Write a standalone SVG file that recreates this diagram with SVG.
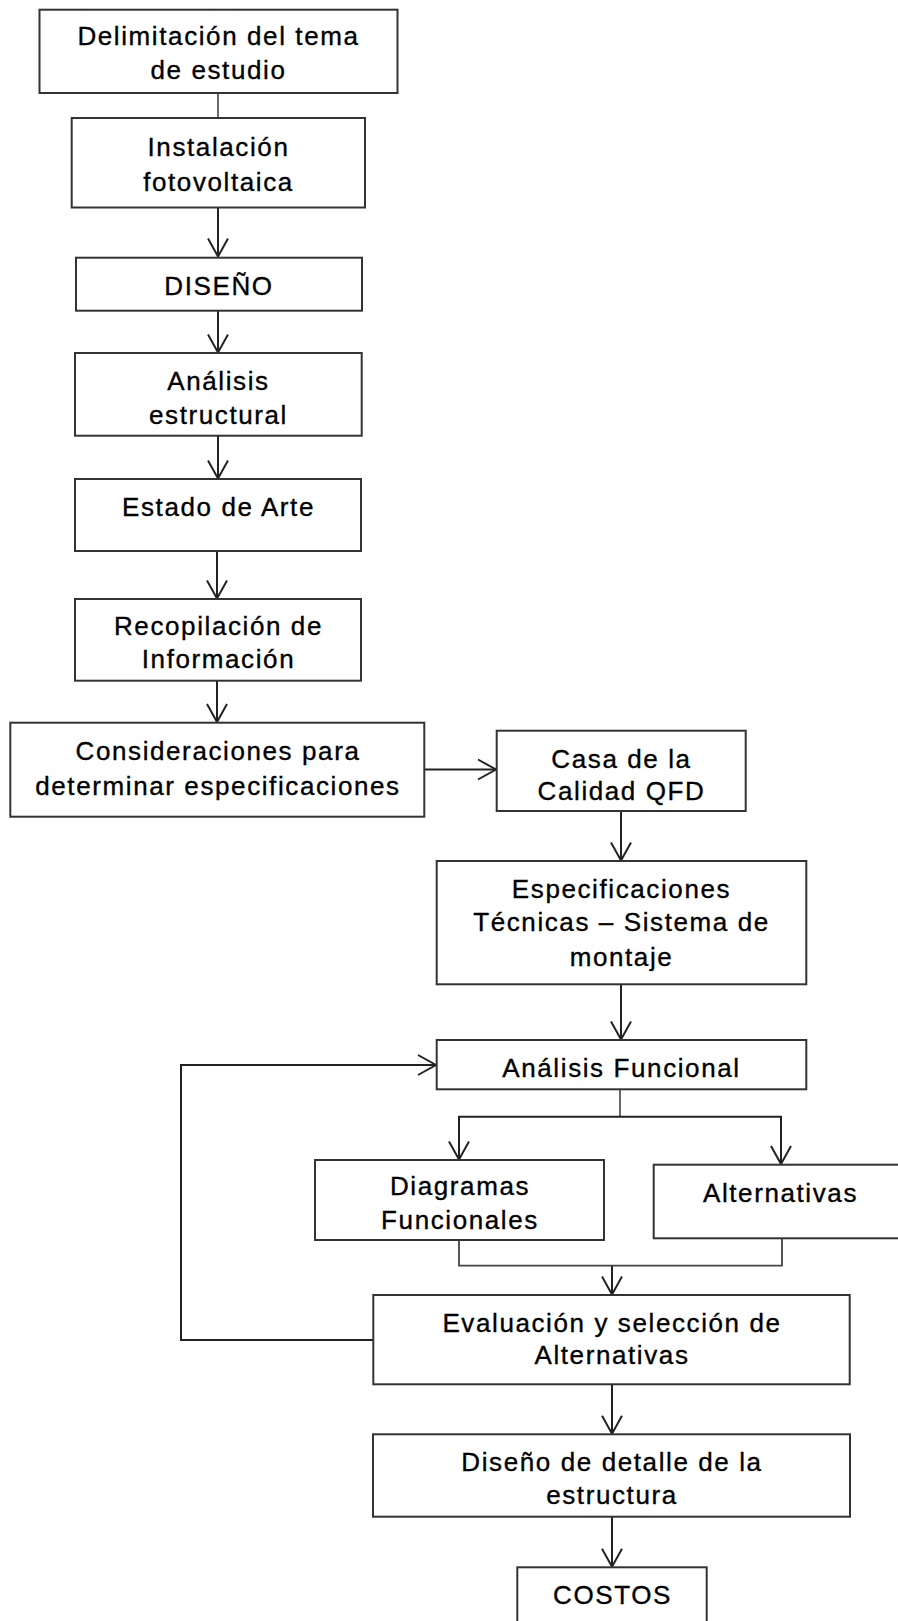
<svg xmlns="http://www.w3.org/2000/svg" width="898" height="1621" viewBox="0 0 898 1621">
<style>
.box{fill:#fff;stroke:#333;stroke-width:2}
.t{font-family:"Liberation Sans",Arial,sans-serif;font-size:26px;letter-spacing:1.6px;fill:#000;stroke:#000;stroke-width:0.35;text-anchor:middle}
.c{fill:none;stroke:#222;stroke-width:2}
</style>
<defs>
<marker id="ah" markerUnits="userSpaceOnUse" viewBox="-20 -12 22 24" refX="0" refY="0" markerWidth="22" markerHeight="24" orient="auto">
<path d="M-18,-10 L0,0 L-18,10" fill="none" stroke="#222" stroke-width="2"/>
</marker>
</defs>
<rect width="898" height="1621" fill="#fff"/>
<g id="connectors">
<path class="c" d="M218,93 V118" style="stroke:#444;stroke-width:1.6"/>
<path class="c" d="M218,207.5 V256.5" marker-end="url(#ah)"/>
<path class="c" d="M218,310.7 V352.5" marker-end="url(#ah)"/>
<path class="c" d="M218,435.7 V478.5" marker-end="url(#ah)"/>
<path class="c" d="M217,551 V598.5" marker-end="url(#ah)"/>
<path class="c" d="M217,680.7 V722" marker-end="url(#ah)"/>
<path class="c" d="M424.3,769.5 H496" marker-end="url(#ah)"/>
<path class="c" d="M621,811 V860.5" marker-end="url(#ah)"/>
<path class="c" d="M621,984.3 V1039.5" marker-end="url(#ah)"/>
<path class="c" d="M373.3,1340 H181 V1065 H436" marker-end="url(#ah)"/>
<path class="c" d="M620,1089.3 V1116.7" style="stroke:#444;stroke-width:1.6"/>
<path class="c" d="M620,1116.7 H459 V1159.5" marker-end="url(#ah)"/>
<path class="c" d="M620,1116.7 H781 V1164" marker-end="url(#ah)"/>
<path class="c" d="M459,1240 V1265.7 H782 V1238.3" style="stroke:#444;stroke-width:1.8"/>
<path class="c" d="M612,1265.7 V1294.5" marker-end="url(#ah)"/>
<path class="c" d="M612,1384.3 V1433.8" marker-end="url(#ah)"/>
<path class="c" d="M612,1516.7 V1566.8" marker-end="url(#ah)"/>
</g>
<g id="n1"><rect class="box" x="39.5" y="9.7" width="358" height="83.3"/><text class="t" x="218.5" y="45">Delimitación del tema</text><text class="t" x="218.5" y="79">de estudio</text></g>
<g id="n2"><rect class="box" x="71.7" y="118" width="293.3" height="89.5"/><text class="t" x="218.5" y="155.7">Instalación</text><text class="t" x="218.5" y="191">fotovoltaica</text></g>
<g id="n3"><rect class="box" x="76" y="257.7" width="286" height="53"/><text class="t" x="219" y="295">DISEÑO</text></g>
<g id="n4"><rect class="box" x="75" y="353" width="286.7" height="82.7"/><text class="t" x="218.5" y="390">Análisis</text><text class="t" x="218.5" y="424">estructural</text></g>
<g id="n5"><rect class="box" x="75" y="479" width="286" height="72"/><text class="t" x="218.5" y="516">Estado de Arte</text></g>
<g id="n6"><rect class="box" x="75" y="599" width="286" height="81.7"/><text class="t" x="218.5" y="635">Recopilación de</text><text class="t" x="218.5" y="668">Información</text></g>
<g id="n7"><rect class="box" x="10.3" y="722.7" width="414" height="94"/><text class="t" x="218" y="760">Consideraciones para</text><text class="t" x="218" y="795">determinar especificaciones</text></g>
<g id="n8"><rect class="box" x="496.7" y="730.7" width="249" height="80.3"/><text class="t" x="621.5" y="768.3">Casa de la</text><text class="t" x="621.5" y="800">Calidad QFD</text></g>
<g id="n9"><rect class="box" x="436.7" y="861" width="369.6" height="123.3"/><text class="t" x="621.5" y="898.3">Especificaciones</text><text class="t" x="621.5" y="930.7">Técnicas – Sistema de</text><text class="t" x="621.5" y="966">montaje</text></g>
<g id="n10"><rect class="box" x="436.7" y="1040" width="369.6" height="49.3"/><text class="t" x="621.5" y="1077.3">Análisis Funcional</text></g>
<g id="n11"><rect class="box" x="315" y="1160" width="289" height="80"/><text class="t" x="460" y="1195">Diagramas</text><text class="t" x="460" y="1229.3">Funcionales</text></g>
<g id="n12"><rect class="box" x="653.7" y="1164.7" width="260" height="73.6"/><text class="t" x="780.5" y="1201.7">Alternativas</text></g>
<g id="n13"><rect class="box" x="373.3" y="1295" width="476.4" height="89.3"/><text class="t" x="612" y="1331.7">Evaluación y selección de</text><text class="t" x="612" y="1364.3">Alternativas</text></g>
<g id="n14"><rect class="box" x="373" y="1434.3" width="477" height="82.4"/><text class="t" x="612" y="1470.7">Diseño de detalle de la</text><text class="t" x="612" y="1504">estructura</text></g>
<g id="n15"><rect class="box" x="517.3" y="1567.3" width="189.4" height="70"/><text class="t" x="612.5" y="1604">COSTOS</text></g>
</svg>
